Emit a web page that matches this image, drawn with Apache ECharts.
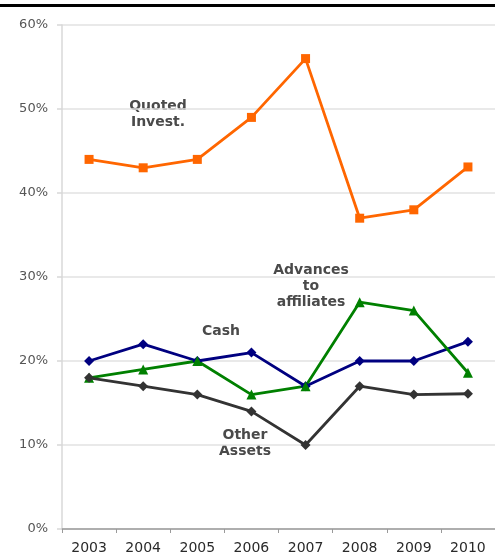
<!DOCTYPE html>
<html>
<head>
<meta charset="utf-8">
<script src="https://cdn.jsdelivr.net/npm/echarts@6/dist/echarts.min.js"></script>
<style>
  html, body { margin: 0; padding: 0; background: #fff; }
  #chart { width: 495px; height: 555px; }
</style>
</head>
<body>
<div id="chart"></div>
<script>
// Asset mix by year, share of total (%)
const years = ['2003', '2004', '2005', '2006', '2007', '2008', '2009', '2010'];
const quotedInvest = [44, 43, 44, 49, 56, 37, 38, 43.1];
const cash = [20, 22, 20, 21, 17, 20, 20, 22.3];
const advances = [18, 19, 20, 16, 17, 27, 26, 18.6];
const otherAssets = [18, 17, 16, 14, 10, 17, 16, 16.1];
const yTicks = [0, 10, 20, 30, 40, 50, 60];

const FONT = 'DejaVu Sans, Verdana, sans-serif';

const chart = echarts.init(document.getElementById('chart'));

function lineSeries(name, data, color, symbol, size) {
  return {
    name: name,
    type: 'line',
    data: data,
    symbol: symbol,
    symbolSize: size,
    lineStyle: { color: color, width: 2.8 },
    itemStyle: { color: color },
    emphasis: { disabled: true },
    animation: false
  };
}

// centred multi-line annotation; (x, y) is the top centre of the block
function note(text, x, y) {
  return {
    type: 'text',
    x: x,
    y: y,
    style: {
      text: text,
      font: 'bold 14px ' + FONT,
      fill: '#4a4a4a',
      align: 'center',
      verticalAlign: 'top',
      lineHeight: 16
    }
  };
}

chart.setOption({
  animation: false,
  grid: { left: 62, top: 25, width: 440, height: 504 },
  xAxis: {
    type: 'category',
    data: years,
    boundaryGap: true,
    axisLine: { lineStyle: { color: '#9a9a9a', width: 1.5 } },
    axisTick: { show: true, length: 4, lineStyle: { color: '#9a9a9a' } },
    axisLabel: { color: '#2a2a2a', fontSize: 14, fontFamily: FONT, margin: 12 },
    splitLine: { show: false }
  },
  yAxis: {
    type: 'value',
    min: yTicks[0],
    max: yTicks[yTicks.length - 1],
    interval: 10,
    axisLine: { show: true, lineStyle: { color: '#d8d8d8', width: 1.5 } },
    axisTick: { show: true, length: 5, lineStyle: { color: '#d8d8d8', width: 1.5 } },
    axisLabel: {
      color: '#555', fontSize: 13, fontFamily: FONT, margin: 14,
      formatter: v => v + '%'
    },
    splitLine: { show: true, lineStyle: { color: '#e2e2e2', width: 1.5 } }
  },
  series: [
    lineSeries('Quoted Invest.', quotedInvest, '#ff6600', 'rect', 9),
    lineSeries('Cash', cash, '#000080', 'diamond', 10),
    lineSeries('Advances to affiliates', advances, '#008000', 'triangle', 10),
    lineSeries('Other Assets', otherAssets, '#333333', 'diamond', 10)
  ],
  graphic: [
    // rule across the top of the panel
    { type: 'rect', left: 0, top: 4, shape: { width: 495, height: 3 }, style: { fill: '#000' } },
    note('Quoted\nInvest.', 158, 98),
    note('Advances\nto\naffiliates', 311, 262),
    note('Cash', 221, 323),
    note('Other\nAssets', 245, 427)
  ]
});
</script>
</body>
</html>
